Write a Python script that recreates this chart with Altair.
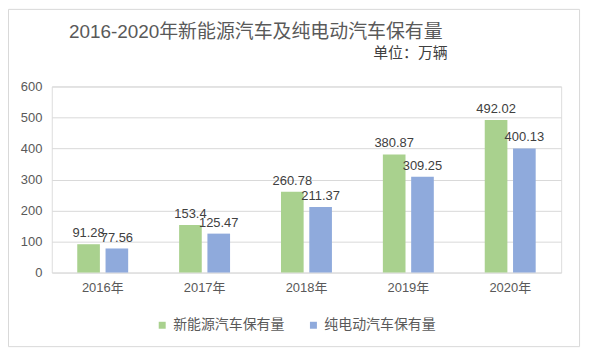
import altair as alt
import pandas as pd

years = ["2016年", "2017年", "2018年", "2019年", "2020年"]
series = ["新能源汽车保有量", "纯电动汽车保有量"]
nev = [91.28, 153.4, 260.78, 380.87, 492.02]
bev = [77.56, 125.47, 211.37, 309.25, 400.13]
colors = ["#a9d18e", "#8faadc"]
title_text = "2016-2020年新能源汽车及纯电动汽车保有量"
unit_text = "单位：万辆"

FONT = "Liberation Sans, Noto Sans CJK SC"

rows = []
for i, y in enumerate(years):
    rows.append({"year": y, "series": series[0], "value": nev[i], "label": f"{nev[i]:g}"})
    rows.append({"year": y, "series": series[1], "value": bev[i], "label": f"{bev[i]:g}"})
df = pd.DataFrame(rows)

W, H = 512, 187

x = alt.X("year:N", sort=years, title=None,
          scale=alt.Scale(paddingInner=0.5, paddingOuter=0.25),
          axis=alt.Axis(labelAngle=0, labelFontSize=13, labelColor="#595959",
                        labelFont=FONT, ticks=False, domain=False, labelPadding=9))
xo = alt.XOffset("series:N", sort=series, scale=alt.Scale(paddingInner=0.2, paddingOuter=0))
y = alt.Y("value:Q", title=None,
          scale=alt.Scale(domain=[0, 600], nice=False),
          axis=alt.Axis(values=[0, 100, 200, 300, 400, 500, 600], labelFontSize=13,
                        labelColor="#595959", labelFont=FONT, ticks=False, domain=False,
                        gridColor="#d9d9d9", gridWidth=1, labelPadding=10))
color = alt.Color("series:N", sort=series, scale=alt.Scale(domain=series, range=colors),
                  legend=alt.Legend(title=None, orient="none", direction="horizontal",
                                    legendX=104, legendY=233, symbolType="square",
                                    symbolSize=49, symbolStrokeWidth=0, labelFontSize=14,
                                    labelColor="#595959", labelFont=FONT,
                                    columnPadding=22, labelOffset=4))

base = alt.Chart(df)
bars = base.mark_bar().encode(x=x, xOffset=xo, y=y, color=color)
labels = base.mark_text(baseline="bottom", dy=-4, fontSize=13, color="#404040",
                        font=FONT).encode(x=x, xOffset=xo, y=y, text="label:N")

ann = pd.DataFrame({"t": [title_text], "u": [unit_text]})
title = alt.Chart(ann).mark_text(fontSize=19, color="#595959", font=FONT,
                                 align="center", baseline="middle").encode(
    x=alt.value(205), y=alt.value(-55), text="t:N")
unit = alt.Chart(ann).mark_text(fontSize=15, color="#404040", font=FONT,
                                align="right", baseline="middle").encode(
    x=alt.value(398), y=alt.value(-34), text="u:N")

L, R, T, B = -43.5, 530.5, -77.5, 261.5
def hrule(yy):
    return alt.Chart(ann).mark_rule(color="#d9d9d9", strokeWidth=1).encode(
        x=alt.value(L), x2=alt.value(R), y=alt.value(yy))
def vrule(xx):
    return alt.Chart(ann).mark_rule(color="#d9d9d9", strokeWidth=1).encode(
        x=alt.value(xx), y=alt.value(T), y2=alt.value(B))

chart = alt.layer(hrule(T), hrule(B), vrule(L), vrule(R), bars, labels, title, unit).properties(
    width=W, height=H,
    autosize=alt.AutoSizeParams(type="none"),
    padding={"left": 44, "top": 78, "right": 30, "bottom": 80},
).configure_view(stroke=None).configure(background="white")

chart.save("out.html", embed_options={"renderer": "svg", "actions": False})
